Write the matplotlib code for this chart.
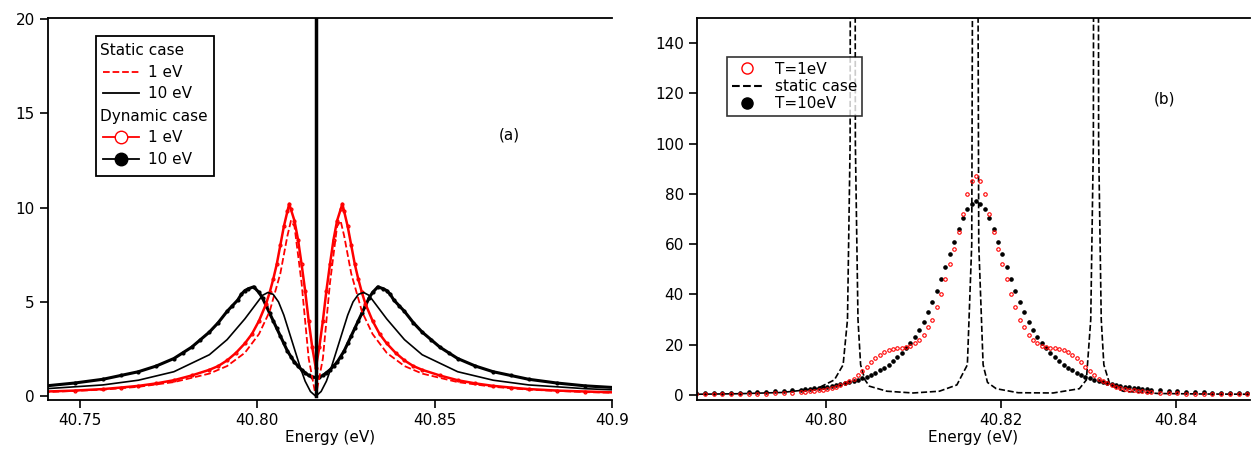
import numpy as np
import matplotlib
matplotlib.use("Agg")
import matplotlib.pyplot as plt
from matplotlib.lines import Line2D
from matplotlib.patches import Rectangle

# ---------------- panel (a) data: offsets from line centre (eV), symmetric ----------------
center_a = 40.8165
d_s1 = [0, 0.002, 0.004, 0.006, 0.007, 0.008, 0.010, 0.013, 0.016, 0.020, 0.025, 0.030, 0.040, 0.050, 0.060, 0.076, 0.085]
y_s1 = [0, 2.0, 6.0, 9.0, 9.3, 8.5, 6.5, 4.5, 3.3, 2.3, 1.6, 1.2, 0.75, 0.5, 0.35, 0.22, 0.18]
d_d1 = [0, 0.001, 0.002, 0.003, 0.004, 0.005, 0.006, 0.007, 0.0075, 0.008, 0.009, 0.010, 0.011, 0.012, 0.013,
        0.014, 0.016, 0.018, 0.020, 0.0225, 0.025, 0.0275, 0.030, 0.035, 0.040, 0.045, 0.050, 0.055, 0.060, 0.068,
        0.076, 0.085]
y_d1 = [1.5, 2.6, 4.0, 5.6, 7.0, 8.3, 9.3, 9.9, 10.2, 9.8, 9.0, 8.0, 7.0, 6.2, 5.5,
        4.9, 4.0, 3.3, 2.8, 2.3, 1.9, 1.6, 1.4, 1.1, 0.85, 0.68, 0.55, 0.46, 0.38, 0.3,
        0.25, 0.2]
d_s10 = [0, 0.0015, 0.003, 0.0045, 0.006, 0.0075, 0.009, 0.0105, 0.012, 0.0135, 0.015, 0.016, 0.018, 0.020,
         0.025, 0.030, 0.040, 0.050, 0.060, 0.076, 0.085]
y_s10 = [0, 0.25, 0.8, 1.6, 2.5, 3.4, 4.3, 5.0, 5.4, 5.5, 5.35, 5.1, 4.6, 4.1,
         3.0, 2.2, 1.3, 0.85, 0.6, 0.4, 0.33]
d_d10 = [0, 0.001, 0.002, 0.003, 0.004, 0.005, 0.006, 0.007, 0.008, 0.009, 0.010, 0.011, 0.012, 0.013, 0.014,
         0.015, 0.016, 0.0175, 0.019, 0.020, 0.021, 0.022, 0.0235, 0.025, 0.0275, 0.030, 0.0325, 0.035, 0.0375,
         0.040, 0.045, 0.050, 0.055, 0.060, 0.068, 0.076, 0.085]
y_d10 = [1.0, 1.02, 1.1, 1.25, 1.4, 1.6, 1.8, 2.1, 2.4, 2.8, 3.2, 3.6, 4.0, 4.4, 4.8,
         5.2, 5.5, 5.8, 5.7, 5.6, 5.4, 5.1, 4.8, 4.5, 3.9, 3.4, 3.0, 2.6, 2.3,
         2.0, 1.6, 1.3, 1.1, 0.9, 0.7, 0.55, 0.45]

# ---------------- panel (b) data ----------------
center_b = 40.8172
d_b = [0, 0.0005, 0.001, 0.0015, 0.002, 0.0025, 0.003, 0.0035, 0.004, 0.0045, 0.005, 0.0055, 0.006, 0.0065,
       0.007, 0.0075, 0.008, 0.0085, 0.009, 0.0095, 0.010, 0.0105, 0.011, 0.0115, 0.012, 0.0125, 0.013, 0.0135,
       0.014, 0.0145, 0.015, 0.0155, 0.016, 0.0165, 0.017, 0.0175, 0.018, 0.0185, 0.019, 0.0195, 0.020,
       0.021, 0.022, 0.023, 0.024, 0.025, 0.026, 0.027, 0.028, 0.029, 0.030, 0.031, 0.032, 0.033]
y_t1 = [87, 85, 80, 72, 65, 58, 52, 46, 40, 35, 30, 27, 24, 22,
        20.5, 19.6, 19, 18.7, 18.5, 18.2, 17.8, 17, 16, 14.6, 13, 11.2, 9.5, 8,
        6.5, 5.5, 4.6, 3.9, 3.2, 2.8, 2.4, 2.1, 1.8, 1.6, 1.4, 1.25, 1.1,
        0.95, 0.8, 0.65, 0.55, 0.47, 0.4, 0.35, 0.3, 0.27, 0.25, 0.22, 0.2, 0.18]
y_t10 = [77, 76, 74, 70.5, 66, 61, 56, 51, 46, 41.5, 37, 33, 29, 26,
         23, 20.7, 18.5, 16.7, 15, 13.4, 12, 10.8, 9.8, 8.8, 8, 7.3, 6.6, 6,
         5.5, 5, 4.6, 4.2, 3.8, 3.5, 3.2, 3.0, 2.8, 2.6, 2.4, 2.25, 2.1,
         1.85, 1.6, 1.45, 1.3, 1.15, 1.0, 0.92, 0.85, 0.77, 0.7, 0.65, 0.6, 0.55]
static_x = [40.7853, 40.790, 40.795, 40.799, 40.801, 40.802, 40.8025, 40.8028, 40.8031, 40.8034, 40.8037,
            40.804, 40.8045, 40.805, 40.807, 40.810, 40.813, 40.815, 40.8162, 40.8167, 40.8169, 40.8171,
            40.8173, 40.8175, 40.818, 40.8185, 40.8195, 40.822, 40.826, 40.829, 40.8298, 40.8303, 40.8306,
            40.8309, 40.8312, 40.8315, 40.8318, 40.8325, 40.834, 40.838, 40.843, 40.8485]
static_y = [0.3, 0.5, 1.0, 2.5, 6, 12, 30, 100, 1000, 100, 30,
            12, 6, 3.5, 1.5, 0.8, 1.5, 4, 12, 60, 300, 1000,
            300, 60, 12, 5, 2.5, 0.9, 0.8, 2.5, 6, 30, 100,
            1000, 100, 30, 12, 4, 1.5, 0.6, 0.4, 0.3]


def mirror(center, d, y):
    d = np.asarray(d, float); y = np.asarray(y, float)
    x = np.concatenate([center - d[::-1], center + d[1:]])
    v = np.concatenate([y[::-1], y[1:]])
    return x, v


fig = plt.figure(figsize=(12.52, 4.66), dpi=100)
plt.rcParams['font.family'] = ['DejaVu Sans']
fs = 11

axa = fig.add_axes([0.0383, 0.1416, 0.4505, 0.8197])
x, v = mirror(center_a, d_d10, y_d10)
axa.plot(x, v, '-', color='black', lw=2.2, marker='o', ms=2)
x, v = mirror(center_a, d_d1, y_d1)
axa.plot(x, v, '-', color='red', lw=1.8, marker='o', ms=2, mfc='none')
x, v = mirror(center_a, d_s1, y_s1)
axa.plot(x, v, '--', color='red', lw=1.3)
x, v = mirror(center_a, d_s10, y_s10)
axa.plot(x, v, '-', color='black', lw=1.2)
axa.plot([center_a, center_a], [0, 20], color='black', lw=2.5)
axa.set_xlim(40.741, 40.8995)
axa.set_ylim(-0.2, 20.05)
axa.set_xticks([40.75, 40.80, 40.85, 40.90])
axa.set_xticklabels(['40.75', '40.80', '40.85', '40.9'])
axa.set_yticks([0, 5, 10, 15, 20])
axa.text(40.868, 13.6, '(a)', fontsize=fs)
axa.set_xlabel('Energy (eV)', fontsize=fs, labelpad=1)


def fx(px):
    return (px - 48) / 564.0


def fy(py):
    return (400 - py) / 382.0


T = axa.transAxes
axa.add_patch(Rectangle((fx(96), fy(176)), fx(214) - fx(96), fy(36) - fy(176), transform=T,
                        fill=True, facecolor='white', edgecolor='black', lw=1.3, zorder=5))
rows = [(50, 'Static case', None), (72, '1 eV', 's1'), (93, '10 eV', 's10'),
        (116, 'Dynamic case', None), (137, '1 eV', 'd1'), (159, '10 eV', 'd10')]
for py, lab, kind in rows:
    if kind is None:
        axa.text(fx(100), fy(py), lab, transform=T, fontsize=fs, va='center', ha='left', zorder=6)
        continue
    axa.text(fx(148), fy(py), lab, transform=T, fontsize=fs, va='center', ha='left', zorder=6)
    xs = [fx(103), fx(139)]
    ys = [fy(py), fy(py)]
    if kind == 's1':
        axa.plot(xs, ys, '--', color='red', lw=1.3, transform=T, zorder=6)
    elif kind == 's10':
        axa.plot(xs, ys, '-', color='black', lw=1.3, transform=T, zorder=6)
    elif kind == 'd1':
        axa.plot(xs, ys, '-', color='red', lw=1.3, transform=T, zorder=6)
        axa.plot([fx(121)], [fy(py)], 'o', color='red', mfc='white', ms=9, transform=T, zorder=7)
    else:
        axa.plot(xs, ys, '-', color='black', lw=1.3, transform=T, zorder=6)
        axa.plot([fx(121)], [fy(py)], 'o', color='black', ms=9, transform=T, zorder=7)

axb = fig.add_axes([0.5567, 0.1416, 0.4417, 0.8197])
axb.plot(static_x, static_y, '--', color='black', lw=1.2)
x, v = mirror(center_b, d_b, y_t10)
axb.plot(x, v, 'o', color='black', ms=2.3, ls='none')
x, v = mirror(center_b, d_b, y_t1)
axb.plot(x, v, 'o', color='red', ms=2.5, mfc='none', mew=0.8, ls='none')
axb.set_xlim(40.7853, 40.8485)
axb.set_ylim(-2, 150)
axb.set_xticks([40.80, 40.82, 40.84])
axb.set_yticks(range(0, 141, 20))
axb.text(40.8375, 116, '(b)', fontsize=fs)
axb.set_xlabel('Energy (eV)', fontsize=fs, labelpad=1)
hb = [Line2D([], [], color='red', marker='o', mfc='none', ls='none', ms=8),
      Line2D([], [], color='black', ls='--'),
      Line2D([], [], color='black', marker='o', ls='none', ms=8)]
lb = ['T=1eV', 'static case', 'T=10eV']
legb = axb.legend(hb, lb, loc='upper left', bbox_to_anchor=(0.055, 0.898), fontsize=fs, frameon=True,
                  fancybox=False, edgecolor='black', handlelength=2.0, borderaxespad=0,
                  labelspacing=0.15, borderpad=0.3)
legb.get_frame().set_linewidth(1.2)

for ax in (axa, axb):
    ax.spines['right'].set_visible(False)
    for s in ('left', 'bottom', 'top'):
        ax.spines[s].set_linewidth(1.3)
    ax.tick_params(direction='out', length=6, width=1.2, labelsize=fs, top=False, right=False)

fig.savefig('out.png', dpi=100)
